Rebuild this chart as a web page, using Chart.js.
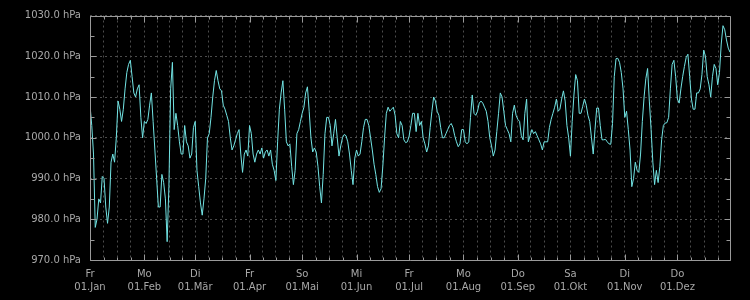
<!DOCTYPE html>
<html><head><meta charset="utf-8">
<script src="https://cdn.jsdelivr.net/npm/chart.js@4/dist/chart.umd.min.js"></script>
<style>html,body{margin:0;padding:0;background:#000;}canvas{display:block;}</style>
</head><body>
<canvas id="c" width="750" height="300"></canvas>
<script>
// ---- data ----
const yearStart = '2016-01-01';
const axisEnd = '2016-12-31';
const monthStarts = ['2016-01-01','2016-02-01','2016-03-01','2016-04-01','2016-05-01','2016-06-01',
  '2016-07-01','2016-08-01','2016-09-01','2016-10-01','2016-11-01','2016-12-01','2017-01-01'];
const monthDayNames = ['Fr','Mo','Di','Fr','So','Mi','Fr','Mo','Do','Sa','Di','Do'];
const monthLabels = ['01.Jan','01.Feb','01.Mär','01.Apr','01.Mai','01.Jun','01.Jul','01.Aug','01.Sep','01.Okt','01.Nov','01.Dez'];
const pressureMin = 970, pressureMax = 1030;
const pressureLabelStep = 10, pressureMinorStep = 5;
// daily air pressure (hPa), 01.Jan .. 31.Dez
const dailyPressure = [
 1008,1003,996,978,980,985,984,990.5,990,983,
 979,983,994,996,994,1000,1009,1007,1004,1007,
 1012,1016,1018,1019,1015,1011,1010,1012,1013,1005,
 1000,1004,1003.5,1004.5,1008,1011,1004,997,990,983,
 983,991,989,985,974.5,988,1012,1018.5,1002,1006,
 1003,999,996,996,1003,999,998,995,996,1002.5,
 1004,992,988,984,981,985,990,1000,1001,1005,
 1010,1014,1016.5,1014,1012,1011.5,1008,1007,1005.5,1004,
 1000,997,998,999.5,1001,1002,996,991.5,996,997,
 995.5,1003,1001,996,994,996,997,996,997.5,995,
 996.5,997,995.5,997,993.5,992,989.5,999,1007,1011,
 1014,1007,999,998,998.5,993,988.5,992,1001,1002,
 1004,1006,1007.5,1011,1012.5,1006.5,1000,996.5,997.5,996.5,
 993,988,984,991,1001,1005,1005,1003,998,1001,
 1004.5,1000,995.5,998,1000,1000.8,1000.5,999,996,992,
 988.5,995,997,995.5,996,999,1002.5,1004.5,1004.5,1003,
 1000,997,993.5,991,988,986.6,987.5,993,1000,1006,
 1007.5,1006.5,1007,1007.5,1005.5,1001,1000,1004,1003,999.5,
 998.8,999,1000.4,1003,1006,1006,1001.5,1006,1003,1004,
 1000,998.5,996.5,998,1002.5,1006.5,1010,1009,1006.5,1005.5,
 1002.5,1000,1000,1001,1002,1003,1003.5,1002.5,1000.5,999,
 997.8,998.5,1002,1002,999,998.5,999,1005,1010.5,1006,
 1005.5,1006.5,1008.5,1009,1008.5,1007.5,1006.5,1004,1000,998,
 995.5,997,1001.5,1006,1011,1010,1006.5,1003,1002,1001,
 999,1006,1008,1005.5,1004.5,1004,1000.5,999.5,1006,1009.5,
 999,1000.5,1002,1001,1001.5,1000.5,999.5,998.5,997,999,
 999,999,1002.5,1004.5,1006,1007.5,1009.5,1006.5,1007,1009.5,
 1011.5,1009,1003,1000,995.5,1004,1010.5,1015.5,1014,1006,
 1006,1007.7,1009.5,1008,1005.5,1004,1000,996,1002,1007.3,
 1007.3,1003,999.5,999.5,999.6,999,998.5,998.4,1003.5,1015,
 1019.4,1019.5,1018.5,1016,1012,1005,1006.5,1002,997,988,
 990,994,992,991.5,996,1004,1010,1014.5,1017,1009,
 1002,994,988.5,992,989,993,999.5,1003,1003.6,1003.7,
 1005,1012,1018,1019,1015,1009.5,1008.5,1012,1015,1017.5,
 1019.7,1020.5,1015,1009.5,1007,1007,1011,1011,1012,1015.5,
 1021.5,1020,1015,1013,1010,1015,1018,1017,1013,1016,
 1023,1027.5,1026.5,1024,1022,1021
];

// ---- helpers ----
const DAY = 86400000;
const dayIndex = s => (Date.parse(s + 'T00:00:00Z') - Date.parse(yearStart + 'T00:00:00Z')) / DAY;
const axisMax = dayIndex(axisEnd);
const monthIdx = monthStarts.map(dayIndex);
const majorX = new Map();
const xTickValues = [];
for (let m = 0; m < 12; m++) {
  const s = monthIdx[m], len = monthIdx[m + 1] - s;
  majorX.set(s, [monthDayNames[m], monthLabels[m]]);
  for (let q = 0; q < 4; q++) {
    const v = s + len * q / 4;
    if (v <= axisMax) xTickValues.push(v);
  }
}
const yTickValues = [];
for (let v = pressureMin; v <= pressureMax; v += pressureMinorStep) yTickValues.push(v);

const points = dailyPressure.map((v, i) => ({x: i, y: v}));

const TEXT = '#a8a8a8', FRAME = '#9a9a9a', GRID = '#4c4c4c';
const FONT = {family: 'DejaVu Sans', size: 10, lineHeight: 1.3};

const framePlugin = {
  id: 'frame',
  afterDatasetsDraw(chart) {
    const {ctx, chartArea: a, scales: {x, y}} = chart;
    const L = Math.round(a.left) + 0.5, R = Math.round(a.right) + 0.5;
    const T = Math.round(a.top) + 0.5, B = Math.round(a.bottom) + 0.5;
    ctx.save();
    ctx.strokeStyle = FRAME;
    ctx.lineWidth = 1;
    ctx.beginPath();
    ctx.rect(L, T, R - L, B - T);
    for (const v of xTickValues) {
      const px = Math.round(x.getPixelForValue(v)) + 0.5;
      const len = majorX.has(v) ? 6 : 3;
      ctx.moveTo(px, B); ctx.lineTo(px, B - len);
      ctx.moveTo(px, T); ctx.lineTo(px, T + len);
    }
    for (const v of yTickValues) {
      const py = Math.round(y.getPixelForValue(v)) + 0.5;
      const len = v % pressureLabelStep === 0 ? 6 : 4;
      ctx.moveTo(L, py); ctx.lineTo(L + len, py);
      ctx.moveTo(R, py); ctx.lineTo(R - len, py);
    }
    ctx.stroke();
    ctx.restore();
  }
};

new Chart(document.getElementById('c'), {
  type: 'line',
  data: {
    datasets: [{
      data: points,
      borderColor: '#72e4e4',
      borderWidth: 1,
      pointRadius: 0,
      tension: 0,
      fill: false
    }]
  },
  options: {
    responsive: false,
    animation: false,
    devicePixelRatio: 1,
    layout: {padding: {left: 0, right: 20, top: 13, bottom: 0}},
    plugins: {legend: {display: false}, tooltip: {enabled: false}},
    scales: {
      x: {
        type: 'linear', min: 0, max: axisMax,
        afterBuildTicks: s => { s.ticks = xTickValues.map(v => ({value: v})); },
        afterFit: s => { s.height = 40; },
        grid: {color: GRID, lineWidth: 1, drawTicks: false},
        border: {display: false, dash: [2, 3]},
        ticks: {
          autoSkip: false, maxRotation: 0, minRotation: 0, padding: 8,
          color: TEXT, font: FONT,
          callback: v => majorX.has(v) ? majorX.get(v) : ''
        }
      },
      y: {
        type: 'linear', min: pressureMin, max: pressureMax,
        afterBuildTicks: s => { s.ticks = yTickValues.map(v => ({value: v})); },
        afterFit: s => { s.width = 90; },
        grid: {
          color: c => (c.tick && c.tick.value % pressureLabelStep === 0) ? GRID : 'rgba(0,0,0,0)',
          lineWidth: 1, drawTicks: false
        },
        border: {display: false, dash: [2, 3]},
        ticks: {
          autoSkip: false, padding: 9, color: TEXT, font: FONT,
          callback: v => v % pressureLabelStep === 0 ? v.toFixed(1) + ' hPa' : ''
        }
      }
    }
  },
  plugins: [framePlugin]
});
</script>
</body></html>
